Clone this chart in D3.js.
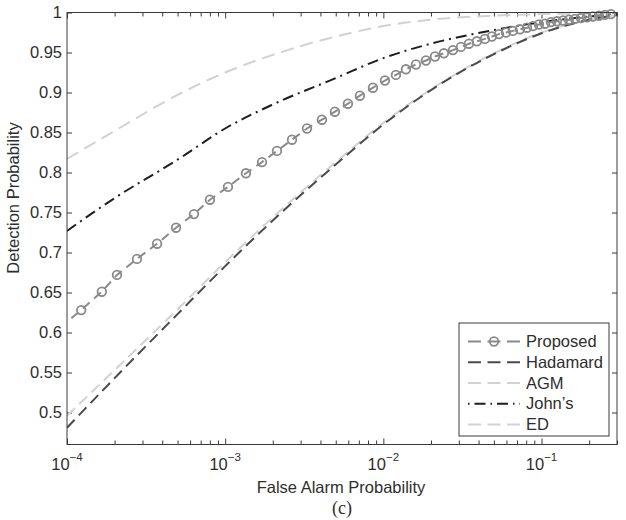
<!DOCTYPE html>
<html>
<head>
<meta charset="utf-8">
<script src="https://cdn.jsdelivr.net/npm/d3@7"></script>
<style>
  body { margin: 0; background: #fff; }
  svg { display: block; font-family: "Liberation Sans", Arial, sans-serif; }
</style>
</head>
<body>
<svg id="chart" width="626" height="520"></svg>
<script>
// ROC curves: detection probability vs false alarm probability (log x)
const pfaGrid = [1e-4, 2e-4, 5e-4, 1e-3, 2e-3, 5e-3, 1e-2, 2e-2, 5e-2, 0.1, 0.2, 0.3];
const edPd       = [0.817, 0.852, 0.897, 0.925, 0.947, 0.970, 0.983, 0.991, 0.996, 0.998, 0.999, 1.000];
const johnsPd    = [0.727, 0.768, 0.816, 0.855, 0.885, 0.918, 0.943, 0.961, 0.978, 0.988, 0.995, 0.998];
const hadamardPd = [0.481, 0.543, 0.623, 0.683, 0.740, 0.810, 0.860, 0.903, 0.948, 0.974, 0.991, 0.997];
const agmPd      = [0.496, 0.553, 0.629, 0.688, 0.744, 0.813, 0.862, 0.904, 0.949, 0.975, 0.991, 0.997];

// Proposed detector: one marker per operating point
const proposedPfa = [
  9.0e-5, 1.23e-4, 1.66e-4, 2.07e-4, 2.77e-4, 3.71e-4, 4.89e-4, 6.35e-4, 8.01e-4,
  1.042e-3, 1.353e-3, 1.709e-3, 2.125e-3, 2.645e-3, 3.29e-3, 4.09e-3, 4.94e-3,
  5.97e-3, 7.11e-3, 8.60e-3, 1.023e-2, 1.201e-2, 1.389e-2, 1.607e-2, 1.859e-2,
  2.12e-2, 2.415e-2, 2.754e-2, 3.094e-2, 3.477e-2, 3.905e-2, 4.386e-2, 4.86e-2,
  5.38e-2, 5.96e-2, 6.59e-2, 7.30e-2, 8.09e-2, 8.82e-2, 9.63e-2, 0.1051, 0.1147,
  0.1251, 0.1366, 0.149, 0.1626, 0.1774, 0.1936, 0.2113, 0.2306, 0.2517, 0.2746
];
const proposedPd = [
  0.606, 0.628, 0.651, 0.672, 0.692, 0.711, 0.731, 0.748, 0.766,
  0.782, 0.799, 0.813, 0.827, 0.841, 0.855, 0.866, 0.876,
  0.886, 0.896, 0.906, 0.915, 0.922, 0.929, 0.935, 0.940,
  0.945, 0.949, 0.953, 0.957, 0.961, 0.964, 0.967, 0.970,
  0.973, 0.975, 0.977, 0.979, 0.981, 0.983, 0.985, 0.986, 0.988,
  0.989, 0.990, 0.991, 0.992, 0.993, 0.994, 0.995, 0.996, 0.997, 0.998
];

const seriesNames = ["Proposed", "Hadamard", "AGM", "John\u2019s", "ED"];
const yTicks = [0.5, 0.55, 0.6, 0.65, 0.7, 0.75, 0.8, 0.85, 0.9, 0.95, 1];
const xMajorExp = [-4, -3, -2, -1];

const svg = d3.select("#chart");
const W = 626, H = 520;
const m = { left: 67, right: 617, top: 12.5, bottom: 444.5 };

const x = d3.scaleLog().domain([1e-4, 0.3]).range([m.left, m.right]);
const y = d3.scaleLinear().domain([0.46, 1]).range([m.bottom, m.top]);

svg.append("rect").attr("width", W).attr("height", H).attr("fill", "#fff");

svg.append("defs").append("clipPath").attr("id", "plotClip")
  .append("rect")
  .attr("x", m.left).attr("y", m.top - 6)
  .attr("width", m.right - m.left).attr("height", m.bottom - m.top + 6);

const axisColor = "#3a3a3a";
const textColor = "#2e2e2e";
const fontSize = 16.5;

// minor + major ticks of the log axis
const xTicksAll = [];
for (let e = -4; e <= -1; e++) {
  for (let k = 1; k <= 9; k++) {
    const v = k * Math.pow(10, e);
    if (v <= 0.3 + 1e-12) xTicksAll.push(v);
  }
}
const isMajor = v => Math.abs(Math.log10(v) - Math.round(Math.log10(v))) < 1e-9;

function styleAxis(g) {
  g.select(".domain").remove();
  g.selectAll(".tick line").attr("stroke", axisColor).attr("stroke-width", 1);
}

// bottom axis
const gxB = svg.append("g").attr("transform", `translate(0,${m.bottom})`)
  .call(d3.axisBottom(x).tickValues(xTicksAll).tickSizeInner(-6).tickSizeOuter(0).tickFormat(""));
styleAxis(gxB);
gxB.selectAll(".tick line").attr("y2", d => isMajor(d) ? -6 : -4);
gxB.selectAll(".tick text").remove();

// top axis
const gxT = svg.append("g").attr("transform", `translate(0,${m.top})`)
  .call(d3.axisTop(x).tickValues(xTicksAll).tickSizeInner(-6).tickSizeOuter(0).tickFormat(""));
styleAxis(gxT);
gxT.selectAll(".tick line").attr("y2", d => isMajor(d) ? 6 : 4);
gxT.selectAll(".tick text").remove();

// left axis
const gyL = svg.append("g").attr("transform", `translate(${m.left},0)`)
  .call(d3.axisLeft(y).tickValues(yTicks).tickSizeInner(-5).tickSizeOuter(0).tickPadding(5)
    .tickFormat(d => String(+d.toFixed(2))));
styleAxis(gyL);
gyL.selectAll(".tick text")
  .attr("fill", textColor).attr("font-size", fontSize)
  .attr("font-family", '"Liberation Sans", Arial, sans-serif');

// right axis
const gyR = svg.append("g").attr("transform", `translate(${m.right},0)`)
  .call(d3.axisRight(y).tickValues(yTicks).tickSizeInner(-5).tickSizeOuter(0).tickFormat(""));
styleAxis(gyR);
gyR.selectAll(".tick text").remove();

// x tick labels with exponent
const xLab = svg.append("g");
xMajorExp.forEach(e => {
  const t = xLab.append("text")
    .attr("x", x(Math.pow(10, e))).attr("y", 470)
    .attr("text-anchor", "middle").attr("fill", textColor)
    .attr("font-size", fontSize);
  t.append("tspan").text("10");
  t.append("tspan").attr("dy", -9).attr("font-size", 11.5).text("\u2212" + (-e));
});

// curves
const plot = svg.append("g").attr("clip-path", "url(#plotClip)");
const lineGen = d3.line().x(d => x(d[0])).y(d => y(d[1])).curve(d3.curveMonotoneX);

const styles = {
  "Proposed": { color: "#8a8a8a", dash: "9,6", width: 2 },
  "Hadamard": { color: "#4a4a4a", dash: "11,6", width: 2 },
  "AGM":      { color: "#d2d2d2", dash: "11,6", width: 2 },
  "John\u2019s": { color: "#1e1e1e", dash: "11,5,2,5", width: 2 },
  "ED":       { color: "#d2d2d2", dash: "13,7", width: 2 }
};

const smoothSeries = [
  ["ED", edPd],
  ["AGM", agmPd],
  ["Hadamard", hadamardPd],
  ["John\u2019s", johnsPd]
];
smoothSeries.forEach(([name, vals]) => {
  const st = styles[name];
  plot.append("path")
    .datum(pfaGrid.map((p, i) => [p, vals[i]]))
    .attr("d", lineGen)
    .attr("fill", "none")
    .attr("stroke", st.color)
    .attr("stroke-width", st.width)
    .attr("stroke-dasharray", st.dash);
});

const propData = proposedPfa.map((p, i) => [p, proposedPd[i]]);
const pst = styles["Proposed"];
plot.append("path")
  .datum(propData)
  .attr("d", d3.line().x(d => x(d[0])).y(d => y(d[1])))
  .attr("fill", "none")
  .attr("stroke", pst.color)
  .attr("stroke-width", pst.width)
  .attr("stroke-dasharray", pst.dash);
plot.selectAll("circle.mk")
  .data(propData)
  .join("circle")
  .attr("class", "mk")
  .attr("cx", d => x(d[0])).attr("cy", d => y(d[1]))
  .attr("r", 4.3)
  .attr("fill", "none")
  .attr("stroke", pst.color)
  .attr("stroke-width", 1.8);

// frame
svg.append("rect")
  .attr("x", m.left).attr("y", m.top)
  .attr("width", m.right - m.left).attr("height", m.bottom - m.top)
  .attr("fill", "none").attr("stroke", axisColor).attr("stroke-width", 1);

// axis titles
svg.append("text")
  .attr("x", 341).attr("y", 493)
  .attr("text-anchor", "middle").attr("fill", textColor).attr("font-size", fontSize)
  .text("False Alarm Probability");
svg.append("text")
  .attr("transform", "translate(19,198) rotate(-90)")
  .attr("text-anchor", "middle").attr("fill", textColor).attr("font-size", fontSize)
  .text("Detection Probability");
svg.append("text")
  .attr("x", 342).attr("y", 514)
  .attr("text-anchor", "middle").attr("fill", textColor).attr("font-size", 18)
  .attr("font-family", '"Liberation Serif", "Times New Roman", serif')
  .text("(c)");

// legend
const lg = svg.append("g");
const lgBox = { x: 459, y: 323, w: 150, h: 113 };
lg.append("rect")
  .attr("x", lgBox.x).attr("y", lgBox.y).attr("width", lgBox.w).attr("height", lgBox.h)
  .attr("fill", "#fff").attr("stroke", axisColor).attr("stroke-width", 1);
const rowY = d3.scalePoint().domain(seriesNames).range([341.5, 424.5]);
seriesNames.forEach(name => {
  const st = styles[name];
  const yy = rowY(name);
  lg.append("line")
    .attr("x1", 468).attr("x2", 520).attr("y1", yy).attr("y2", yy)
    .attr("stroke", st.color).attr("stroke-width", st.width)
    .attr("stroke-dasharray", name === "John\u2019s" ? "1.5,5,11,5" : "13,6.5");
  if (name === "Proposed") {
    lg.append("circle").attr("cx", 494).attr("cy", yy).attr("r", 4.3)
      .attr("fill", "#fff").attr("stroke", st.color).attr("stroke-width", 1.8);
    lg.append("line").attr("x1", 490).attr("x2", 498).attr("y1", yy).attr("y2", yy)
      .attr("stroke", st.color).attr("stroke-width", 2);
  }
  lg.append("text")
    .attr("x", 526).attr("y", yy + 5.5)
    .attr("fill", textColor).attr("font-size", fontSize)
    .text(name);
});
</script>
</body>
</html>
